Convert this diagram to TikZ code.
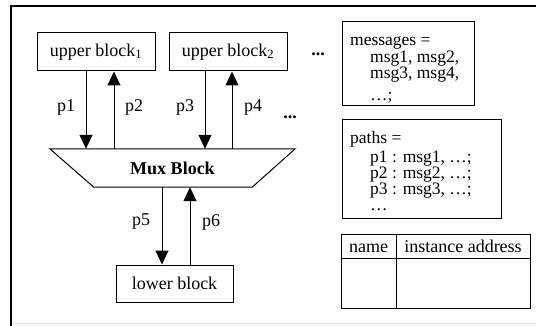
\documentclass[tikz,border=0pt]{standalone}
\usepackage{fontspec}
\setmainfont{Liberation Serif}
\usetikzlibrary{arrows.meta}
\newcommand{\ind}{\hspace*{20pt}}
\newcommand{\tightlines}{\lineskiplimit=-30pt\relax\lineskip=0pt\relax}
\begin{document}
\begin{tikzpicture}[x=1pt,y=-1pt,
  txt/.style={inner sep=0pt, font=\fontsize{18}{18}\selectfont},
  tblock/.style={inner sep=0pt, anchor=north west, align=left,
     font={\fontsize{17.5}{16}\selectfont\tightlines}},
  box/.style={draw, line width=1pt, inner sep=0pt, font=\fontsize{18}{18}\selectfont},
  arr/.style={line width=1pt, -{Triangle[length=14pt,width=13pt]}},
  ln/.style={line width=1pt}
  ]
\useasboundingbox (0,0) rectangle (536,326);
\draw[line width=1.5pt] (11,326) -- (11,6) -- (536,6);
\draw[black!12, line width=1pt] (12,323.5) -- (536,323.5);

% upper blocks
\node[box, minimum width=118pt, minimum height=38pt] (u1) at (96,52) {upper block\textsubscript{1}};
\node[box, minimum width=118pt, minimum height=38pt] (u2) at (228,52) {upper block\textsubscript{2}};
\node[txt] (d1) at (318,54) {\textbf{...}};
\node[txt] (d2) at (290,117) {\textbf{...}};

% mux
\node[inner sep=0pt, minimum width=245pt, minimum height=38pt, font=\fontsize{18}{18}\selectfont\bfseries] (mux) at (172.5,168) {Mux Block};
\draw[ln] (mux.north west) -- (mux.north east) -- ([xshift=-43pt]mux.south east) -- ([xshift=44pt]mux.south west) -- cycle;

% lower
\node[box, minimum width=117pt, minimum height=37pt] (low) at (174.5,283.5) {lower block};

% arrows
\draw[arr] ([xshift=-10pt]u1.south) -- ([xshift=-10pt]u1.south |- mux.north);
\draw[arr] ([xshift=18pt]u1.south |- mux.north) -- ([xshift=18pt]u1.south);
\draw[arr] ([xshift=-23pt]u2.south) -- ([xshift=-23pt]u2.south |- mux.north);
\draw[arr] ([xshift=4pt]u2.south |- mux.north) -- ([xshift=4pt]u2.south);
\draw[arr] ([xshift=-12.5pt]low.north |- mux.south) -- ([xshift=-12.5pt]low.north);
\draw[arr] ([xshift=15.5pt]low.north) -- ([xshift=15.5pt]low.north |- mux.south);

\node[txt] (l1) at (66,107) {p1};
\node[txt] (l2) at (134,107) {p2};
\node[txt] (l3) at (185,107) {p3};
\node[txt] (l4) at (253,107) {p4};
\node[txt] (l5) at (141,222) {p5};
\node[txt] (l6) at (211,222) {p6};

% messages
\node[box, minimum width=132pt, minimum height=84pt] (msgs) at (408,64) {};
\node[tblock] (mtext) at (350,32) {\rule{0pt}{13pt}messages =\\[1pt]
  \ind msg1, msg2,\\
  \ind msg3, msg4,\\[6pt]
  \ind …;};

% paths
\node[box, minimum width=159pt, minimum height=99pt] (paths) at (421.5,169.5) {};
\node[tblock] (ptext) at (350,130) {\rule{0pt}{13pt}paths =\\[3pt]
  \ind p1 : msg1, …;\\
  \ind p2 : msg2, …;\\
  \ind p3 : msg3, …;\\
  \ind …};

% table
\node[box, minimum width=189pt, minimum height=73pt] (tbl) at (435.5,271.5) {};
\coordinate (hd) at (396,258);
\draw[ln] (tbl.west |- hd) -- (tbl.east |- hd);
\draw[ln] (hd |- tbl.north) -- (hd |- tbl.south);
\node[txt, anchor=base] (t1) at (368.5,252) {name};
\node[txt, anchor=base] (t2) at (463,252) {instance address};
\end{tikzpicture}
\end{document}
